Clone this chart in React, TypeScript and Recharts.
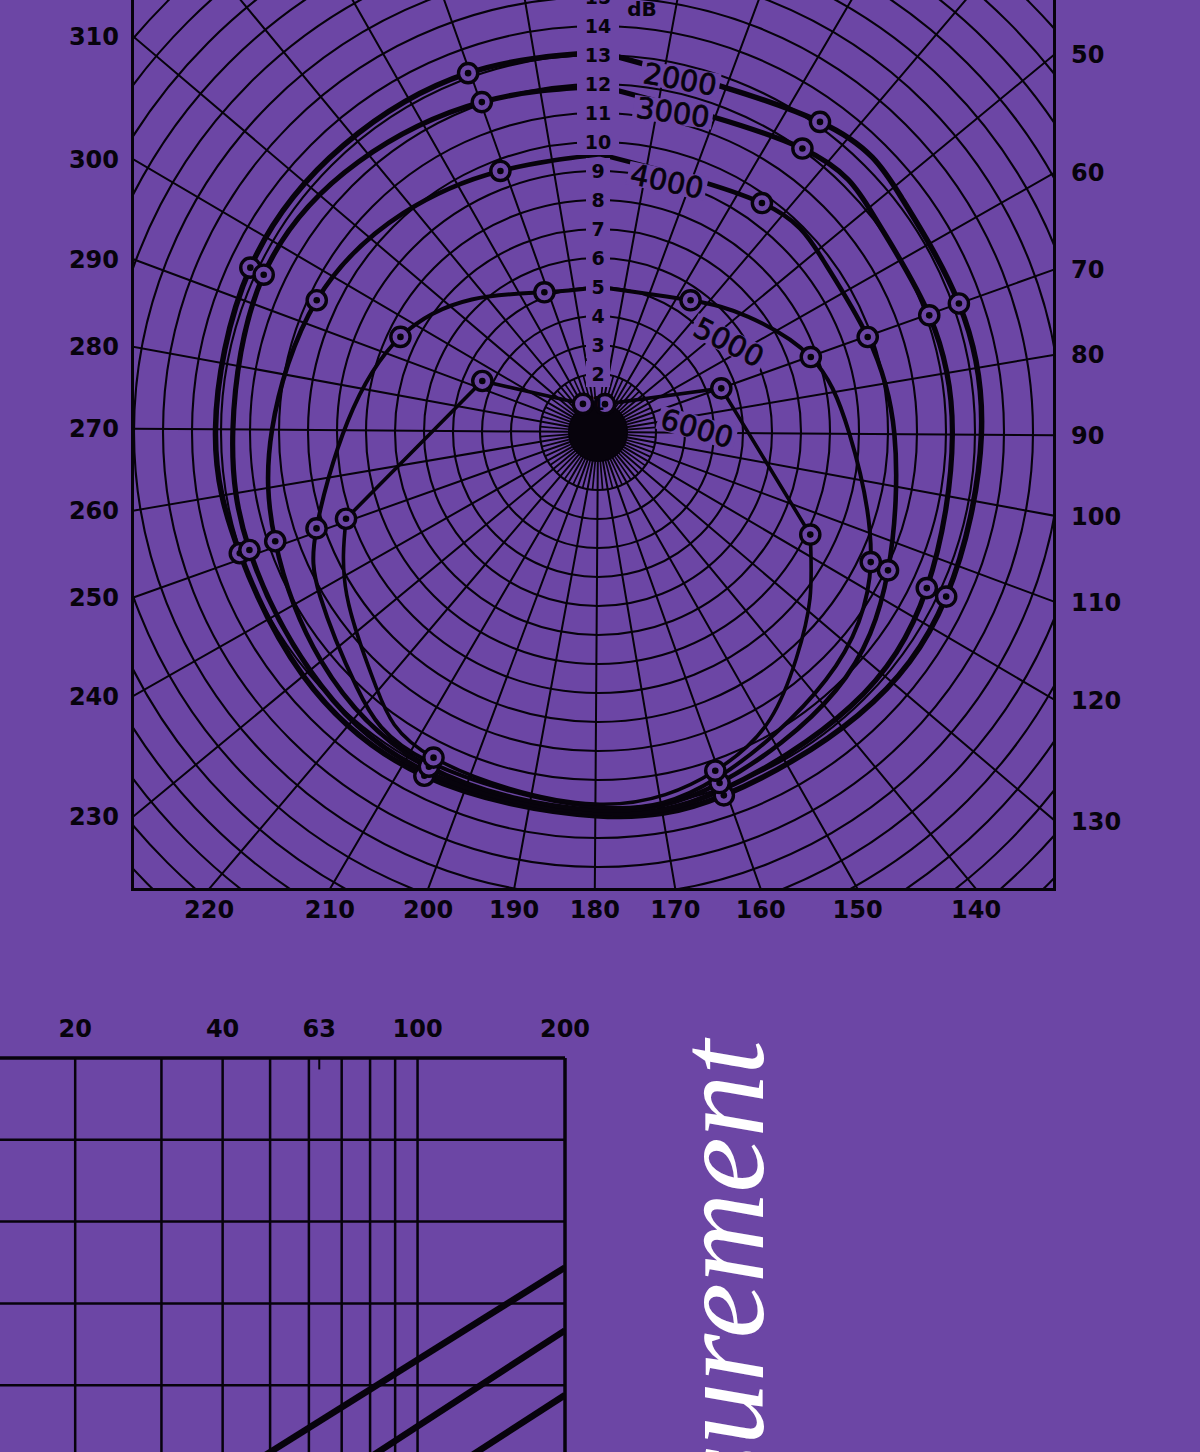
import React from 'react';
import {
  RadarChart,
  PolarGrid,
  PolarAngleAxis,
  PolarRadiusAxis,
  Radar,
  ComposedChart,
  Line,
  Scatter,
  XAxis,
  YAxis,
  LineChart,
  ReferenceLine,
} from 'recharts';

const PURPLE = '#6c46a5';
const INK = '#07030c';
const SANS = "'DejaVu Sans', 'Liberation Sans', sans-serif";

// ---------------- polar directional chart: data ----------------
const ANGLE_TICKS = [0, 10, 20, 30, 40, 50, 60, 70, 80, 90, 100, 110, 120, 130, 140, 150, 160, 170, 180, 190, 200, 210, 220, 230, 240, 250, 260, 270, 280, 290, 300, 310, 320, 330, 340, 350];
const LONG_SPOKE_ANGLES = ANGLE_TICKS.filter((a) => a !== 0);
const SHORT_SPOKE_ANGLES = [5, 15, 25, 35, 45, 55, 65, 75, 85, 95, 105, 115, 125, 135, 145, 155, 165, 175, 185, 195, 205, 215, 225, 235, 245, 255, 265, 275, 285, 295, 305, 315, 325, 335, 345, 355];
const RING_TICKS = [1, 2, 3, 4, 5, 6, 7, 8, 9, 10, 11, 12, 13, 14, 15, 16, 17, 18, 19, 20, 21, 22, 23];
const RING_LABELS = [1, 2, 3, 4, 5, 6, 7, 8, 9, 10, 11, 12, 13, 14, 15];
const DISK_DB = 1;
const SHORT_SPOKE_OUTER_DB = 2;
const SPOKE_OUTER_DB = 23;

type P = { a: number; db: number; m?: boolean };

const C2000: P[] = [
  { a: 0, db: 13.1 },
  { a: 35.2, db: 13.15, m: true },
  { a: 52, db: 13.22 },
  { a: 70.0, db: 13.21, m: true },
  { a: 90, db: 13.22 },
  { a: 114.9, db: 13.28, m: true },
  { a: 137, db: 13.26 },
  { a: 160.5, db: 13.26, m: true },
  { a: 180, db: 13.23 },
  { a: 206.4, db: 13.28, m: true },
  { a: 230, db: 13.19 },
  { a: 250.9, db: 13.04, m: true },
  { a: 270, db: 13.19 },
  { a: 294.9, db: 13.26, m: true },
  { a: 318, db: 13.22 },
  { a: 339.7, db: 13.16, m: true },
  { a: 360, db: 13.1 },
];

const C3000: P[] = [
  { a: 0, db: 11.93 },
  { a: 35.4, db: 12.05, m: true },
  { a: 52, db: 12.07 },
  { a: 70.2, db: 12.11, m: true },
  { a: 90, db: 12.22 },
  { a: 115.0, db: 12.55, m: true },
  { a: 137, db: 12.86 },
  { a: 160.5, db: 13.06 },
  { a: 180, db: 13.13 },
  { a: 207, db: 13.13 },
  { a: 230, db: 12.89 },
  { a: 250.9, db: 12.69, m: true },
  { a: 270, db: 12.59 },
  { a: 294.8, db: 12.74, m: true },
  { a: 318, db: 12.45 },
  { a: 340.2, db: 12.06, m: true },
  { a: 360, db: 11.93 },
];

const C4000: P[] = [
  { a: 0, db: 9.58 },
  { a: 35.2, db: 9.71, m: true },
  { a: 52, db: 9.77 },
  { a: 70.2, db: 9.86, m: true },
  { a: 90, db: 10.22 },
  { a: 115.1, db: 11.08, m: true },
  { a: 137, db: 12.11 },
  { a: 160.5, db: 12.81, m: true },
  { a: 180, db: 13.03 },
  { a: 206.4, db: 12.93, m: true },
  { a: 230, db: 12.39 },
  { a: 250.9, db: 11.75, m: true },
  { a: 270, db: 11.24 },
  { a: 294.7, db: 10.71, m: true },
  { a: 318, db: 10.1 },
  { a: 339.1, db: 9.61, m: true },
  { a: 360, db: 9.58 },
];

const C5000: P[] = [
  { a: 0, db: 5.0 },
  { a: 34.7, db: 5.55, m: true },
  { a: 52, db: 6.52 },
  { a: 70.2, db: 7.78, m: true },
  { a: 90, db: 8.67 },
  { a: 115.1, db: 10.42, m: true },
  { a: 137, db: 11.61 },
  { a: 160.5, db: 12.61 },
  { a: 180, db: 12.93 },
  { a: 207, db: 12.78 },
  { a: 223, db: 12.11 },
  { a: 239, db: 11.13 },
  { a: 250.7, db: 10.26, m: true },
  { a: 272, db: 8.64 },
  { a: 295.3, db: 7.56, m: true },
  { a: 316, db: 6.31 },
  { a: 338.6, db: 5.16, m: true },
  { a: 360, db: 5.0 },
];

const C6000_UPPER: P[] = [
  { a: 250.6, db: 9.19, m: true },
  { a: 293.4, db: 4.36, m: true },
  { a: 331.4, db: 1.1, m: true },
  { a: 357.6, db: 0.97 },
  { a: 373.7, db: 0.99, m: true },
  { a: 430.1, db: 4.51, m: true },
  { a: 475.4, db: 8.13, m: true },
];

const C6000_LOWER: P[] = [
  { a: 115.4, db: 8.13 },
  { a: 127.7, db: 9.29 },
  { a: 138.4, db: 10.38 },
  { a: 148.6, db: 11.54 },
  { a: 160.5, db: 12.36, m: true },
  { a: 180, db: 12.83 },
  { a: 206.4, db: 12.58, m: true },
  { a: 220.6, db: 11.66 },
  { a: 236.6, db: 10.33 },
  { a: 250.6, db: 9.19 },
];

const CURVE_LABELS = [
  { text: '2000', a: 12.7, db: 12.5, rot: 10 },
  { text: '3000', a: 12.8, db: 11.33, rot: 8 },
  { text: '4000', a: 15.0, db: 8.98, rot: 12 },
  { text: '5000', a: 55.1, db: 5.48, rot: 27 },
  { text: '6000', a: 87.3, db: 3.42, rot: 16 },
];

// ---------------- log chart (bottom left): data ----------------
const LOG_GRID_F = [20, 30, 40, 50, 60, 70, 80, 90, 100];
const LOG_TICKS = [20, 40, 63, 100, 200];
const LOG_H_LINES = [0, 10, 20, 30];
const SLOPE_A = [{ f: 45, v: -9.9 }, { f: 200, v: 14.4 }];
const SLOPE_B = [{ f: 75, v: -9.9 }, { f: 200, v: 6.7 }];
const SLOPE_C = [{ f: 120, v: -9.8 }, { f: 200, v: -1.2 }];

// ---------------- layout ----------------
const CX = 598;
const CY = 432;
const PX_PER_DB = 29;
const ANGLE_OFFSET = 0.4; // chart is printed very slightly turned clockwise
const FL = 133;
const FR = 1055;
const FT = -40;
const FB = 889;
const FW = FR - FL;
const FH = FB - FT;
const OUTER = PX_PER_DB * SPOKE_OUTER_DB;
const X_DOMAIN = [(FL - CX) / PX_PER_DB, (FR - CX) / PX_PER_DB];
const Y_DOMAIN = [(CY - FB) / PX_PER_DB, (CY - FT) / PX_PER_DB];
const START_ANGLE = 90 - ANGLE_OFFSET;
const END_ANGLE = START_ANGLE - 360;

const polar = (a: number, db: number) => {
  const t = ((a + ANGLE_OFFSET) * Math.PI) / 180;
  return { x: db * Math.sin(t), y: db * Math.cos(t) };
};

const spokes = (angles: number[], from: number, to: number) =>
  angles.flatMap((a) => {
    const p1 = polar(a, from);
    const p2 = polar(a, to);
    return [p1, p2, { x: p2.x, y: null as number | null }];
  });

const toXY = (pts: P[]) => pts.map((p) => polar(p.a, p.db));

const RADAR_DATA = ANGLE_TICKS.map((a) => ({ angle: a, disk: DISK_DB }));
const LONG_SPOKES = spokes(LONG_SPOKE_ANGLES, DISK_DB, SPOKE_OUTER_DB);
const SHORT_SPOKES = spokes(SHORT_SPOKE_ANGLES, DISK_DB, SHORT_SPOKE_OUTER_DB);
const MARKERS = [C2000, C3000, C4000, C5000, C6000_UPPER, C6000_LOWER].flatMap((c) =>
  c.filter((p) => p.m).map((p) => polar(p.a, p.db))
);
const LABEL_POINTS = CURVE_LABELS.map((l) => ({ ...polar(l.a, l.db), text: l.text, rot: l.rot }));

const CURVES = [
  { key: '2000', data: toXY(C2000), w: 5.5, type: 'natural' },
  { key: '3000', data: toXY(C3000), w: 5.2, type: 'natural' },
  { key: '4000', data: toXY(C4000), w: 4.6, type: 'natural' },
  { key: '5000', data: toXY(C5000), w: 4.0, type: 'natural' },
  { key: '6000a', data: toXY(C6000_UPPER), w: 3.6, type: 'linear' },
  { key: '6000b', data: toXY(C6000_LOWER), w: 3.6, type: 'natural' },
];

// ---------------- custom renderers ----------------
const MarkerShape = (props: any) => {
  const { cx, cy } = props;
  return (
    <g>
      <circle cx={cx} cy={cy} r={9.6} fill={PURPLE} stroke={INK} strokeWidth={3.4} />
      <circle cx={cx} cy={cy} r={3.3} fill={INK} />
    </g>
  );
};

const CurveLabelShape = (props: any) => {
  const { cx, cy, payload } = props;
  const w = payload.text.length * 18.5 + 6;
  return (
    <g transform={`rotate(${payload.rot}, ${cx}, ${cy})`}>
      <rect x={cx - w / 2} y={cy - 12} width={w} height={24} fill={PURPLE} />
      <text
        x={cx}
        y={cy}
        dy="0.36em"
        textAnchor="middle"
        fontFamily={SANS}
        fontSize={29}
        fill={INK}
        stroke={INK}
        strokeWidth={0.7}
      >
        {payload.text}
      </text>
    </g>
  );
};

const RingTick = (props: any) => {
  const { x, y, payload } = props;
  const v = Number(payload && payload.value);
  if (!RING_LABELS.includes(v)) return <g />;
  const label = String(v);
  const w = label.length === 1 ? 24 : 42;
  return (
    <g>
      {v !== 1 && <rect x={x - w / 2} y={y - 13} width={w} height={26} fill={PURPLE} />}
      <text x={x} y={y} dy="0.36em" textAnchor="middle" fontFamily={SANS} fontWeight="bold" fontSize={19} fill={INK}>
        {label}
      </text>
      {v === 15 && (
        <text x={x + 44} y={y + 12} dy="0.36em" textAnchor="middle" fontFamily={SANS} fontWeight="bold" fontSize={20} fill={INK}>
          dB
        </text>
      )}
    </g>
  );
};

const AngleTick = (props: any) => {
  const { x, y, payload } = props;
  const dx = x - CX;
  const dy = y - CY;
  const tx = dx > 1e-6 ? (FR - CX) / dx : dx < -1e-6 ? (FL - CX) / dx : Infinity;
  const ty = dy > 1e-6 ? (FB - CY) / dy : dy < -1e-6 ? (FT - CY) / dy : Infinity;
  const t = Math.min(tx, ty);
  const hx = CX + t * dx;
  const hy = CY + t * dy;
  let lx = hx;
  let ly = hy;
  let anchor: 'start' | 'middle' | 'end' = 'middle';
  if (tx < ty) {
    if (dx < 0) {
      lx = FL - 14;
      anchor = 'end';
    } else {
      lx = FR + 16;
      anchor = 'start';
    }
  } else {
    if (dy < 0) return <g />; // top edge lies outside the page
    ly = FB + 20;
  }
  if (ly < 10) return <g />;
  return (
    <text x={lx} y={ly} dy="0.36em" textAnchor={anchor} fontFamily={SANS} fontWeight="bold" fontSize={24} fill={INK}>
      {payload.value}
    </text>
  );
};

const LogTick = (props: any) => {
  const { x, y, payload } = props;
  return (
    <text x={x} y={y - 13} textAnchor="middle" fontFamily={SANS} fontWeight="bold" fontSize={24} fill={INK}>
      {payload.value}
    </text>
  );
};

export default function App() {
  return (
    <div
      style={{
        position: 'fixed',
        left: 0,
        top: 0,
        width: 1200,
        height: 1452,
        background: PURPLE,
        overflow: 'hidden',
      }}
    >
      {/* polar grid + curves, clipped to the frame */}
      <div style={{ position: 'absolute', left: FL, top: FT, width: FW, height: FH, overflow: 'hidden' }}>
        <div style={{ position: 'absolute', left: 0, top: 0 }}>
          <RadarChart
            width={FW}
            height={FH}
            data={RADAR_DATA}
            cx={CX - FL}
            cy={CY - FT}
            innerRadius={0}
            outerRadius={OUTER}
            startAngle={START_ANGLE}
            endAngle={END_ANGLE}
            margin={{ top: 0, right: 0, bottom: 0, left: 0 }}
          >
            <PolarGrid gridType="circle" radialLines={false} stroke={INK} strokeWidth={2.1} />
            <PolarAngleAxis dataKey="angle" tick={false} axisLine={false} tickLine={false} />
            <PolarRadiusAxis
              type="number"
              domain={[0, SPOKE_OUTER_DB]}
              ticks={RING_TICKS as any}
              tickCount={24}
              tick={false}
              axisLine={false}
            />
            <Radar dataKey="disk" fill={INK} fillOpacity={1} stroke={INK} strokeWidth={1} isAnimationActive={false} dot={false} />
          </RadarChart>
        </div>
        <div style={{ position: 'absolute', left: 0, top: 0 }}>
          <ComposedChart width={FW} height={FH} margin={{ top: 0, right: 0, bottom: 0, left: 0 }}>
            <XAxis type="number" dataKey="x" domain={X_DOMAIN} allowDataOverflow hide />
            <YAxis type="number" dataKey="y" domain={Y_DOMAIN} allowDataOverflow hide />
            <Line
              data={LONG_SPOKES}
              dataKey="y"
              type="linear"
              stroke={INK}
              strokeWidth={2}
              dot={false}
              activeDot={false}
              isAnimationActive={false}
            />
            <Line
              data={SHORT_SPOKES}
              dataKey="y"
              type="linear"
              stroke={INK}
              strokeWidth={1.7}
              dot={false}
              activeDot={false}
              isAnimationActive={false}
            />
            <Scatter data={LABEL_POINTS} dataKey="y" shape={CurveLabelShape} isAnimationActive={false} />
            {CURVES.map((c) => (
              <Line
                key={c.key}
                data={c.data}
                dataKey="y"
                type={c.type as any}
                stroke={INK}
                strokeWidth={c.w}
                strokeLinejoin="round"
                dot={false}
                activeDot={false}
                isAnimationActive={false}
              />
            ))}
            <Scatter data={MARKERS} dataKey="y" shape={MarkerShape} isAnimationActive={false} />
          </ComposedChart>
        </div>
      </div>

      {/* frame */}
      <div
        style={{
          position: 'absolute',
          left: FL - 2,
          top: FT,
          width: FW + 3,
          height: FH + 2,
          boxSizing: 'border-box',
          borderLeft: `3px solid ${INK}`,
          borderRight: `3px solid ${INK}`,
          borderBottom: `3px solid ${INK}`,
        }}
      />

      {/* ring labels and angle labels */}
      <div style={{ position: 'absolute', left: 0, top: 0 }}>
        <RadarChart
          width={1200}
          height={1000}
          data={RADAR_DATA}
          cx={CX}
          cy={CY}
          innerRadius={0}
          outerRadius={OUTER}
          startAngle={START_ANGLE}
          endAngle={END_ANGLE}
          margin={{ top: 0, right: 0, bottom: 0, left: 0 }}
        >
          <PolarAngleAxis dataKey="angle" tick={(p: any) => <AngleTick {...p} />} axisLine={false} tickLine={false} />
          <PolarRadiusAxis
            angle={90}
            type="number"
            domain={[0, SPOKE_OUTER_DB]}
            ticks={RING_LABELS as any}
            tickCount={24}
            axisLine={false}
            tick={(p: any) => <RingTick {...p} />}
          />
          <Radar dataKey="disk" fill="none" stroke="none" isAnimationActive={false} dot={false} />
        </RadarChart>
      </div>

      {/* log frequency grid, bottom left */}
      <div style={{ position: 'absolute', left: -20, top: 1000 }}>
        <LineChart width={640} height={472} margin={{ top: 18, right: 55, bottom: 5, left: 10 }}>
          <XAxis
            dataKey="f"
            type="number"
            scale="log"
            domain={[13.4, 200]}
            allowDataOverflow
            orientation="top"
            ticks={LOG_TICKS}
            interval={0}
            height={40}
            axisLine={false}
            tickLine={false}
            tick={(p: any) => <LogTick {...p} />}
          />
          <YAxis type="number" domain={[-10, 40]} allowDataOverflow hide />
          {LOG_GRID_F.map((f) => (
            <ReferenceLine key={`vf${f}`} x={f} stroke={INK} strokeWidth={2.5} />
          ))}
          {LOG_H_LINES.map((v) => (
            <ReferenceLine key={`hv${v}`} y={v} stroke={INK} strokeWidth={2.5} />
          ))}
          <ReferenceLine x={200} stroke={INK} strokeWidth={3.5} />
          <ReferenceLine y={40} stroke={INK} strokeWidth={3.5} />
          <ReferenceLine
            segment={[
              { x: 63, y: 40 },
              { x: 63, y: 38.6 },
            ]}
            stroke={INK}
            strokeWidth={2}
          />
          <Line data={SLOPE_A} dataKey="v" type="linear" stroke={INK} strokeWidth={6.5} dot={false} activeDot={false} isAnimationActive={false} />
          <Line data={SLOPE_B} dataKey="v" type="linear" stroke={INK} strokeWidth={6.5} dot={false} activeDot={false} isAnimationActive={false} />
          <Line data={SLOPE_C} dataKey="v" type="linear" stroke={INK} strokeWidth={6.5} dot={false} activeDot={false} isAnimationActive={false} />
        </LineChart>
      </div>

      {/* rotated title */}
      <svg width={1200} height={1452} style={{ position: 'absolute', left: 0, top: 0, pointerEvents: 'none' }}>
        <text
          transform="translate(763,1040) rotate(-90)"
          textAnchor="end"
          fontFamily="'Liberation Serif', 'DejaVu Serif', serif"
          fontStyle="italic"
          fontSize={125}
          fill="#ffffff"
        >
          Measurement
        </text>
      </svg>
    </div>
  );
}
